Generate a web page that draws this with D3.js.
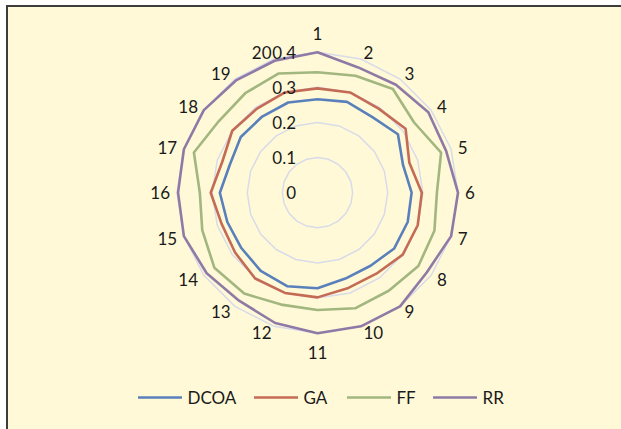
<!DOCTYPE html>
<html>
<head>
<meta charset="utf-8">
<script src="https://cdn.jsdelivr.net/npm/d3@7"></script>
<style>
html,body{margin:0;padding:0;background:#fff;}
svg{display:block;}
text{font-family:Lato,"Liberation Sans",Arial,sans-serif;fill:#1a1a1a;}
</style>
</head>
<body>
<svg id="chart" width="621" height="429"></svg>
<script>
const categories = ["1","2","3","4","5","6","7","8","9","10","11","12","13","14","15","16","17","18","19","20"];
const seriesNames = ["DCOA","GA","FF","RR"];
const DCOA = [0.266,0.272,0.266,0.283,0.256,0.268,0.270,0.270,0.257,0.257,0.272,0.280,0.275,0.268,0.270,0.278,0.262,0.270,0.268,0.270];
const GA   = [0.297,0.300,0.296,0.310,0.275,0.297,0.300,0.300,0.285,0.285,0.298,0.300,0.302,0.290,0.287,0.304,0.285,0.300,0.295,0.300];
const FF   = [0.343,0.350,0.365,0.340,0.370,0.340,0.350,0.355,0.345,0.346,0.334,0.335,0.355,0.363,0.345,0.335,0.370,0.347,0.350,0.357];
const RR   = [0.400,0.375,0.380,0.390,0.385,0.400,0.400,0.385,0.400,0.400,0.400,0.390,0.380,0.390,0.400,0.397,0.400,0.400,0.395,0.395];
const tickValues = [0,0.1,0.2,0.3,0.4];
const tickLabels = ["0","0.1","0.2","0.3","0.4"];
const colors = ["#5a80bc","#c46b56","#a2b67f","#8f7aa6"];

const FS = 17;
const svg = d3.select("#chart");
// chart area
svg.append("rect").attr("x",7).attr("y",6).attr("width",700).attr("height",500)
  .attr("fill","#fff9d7").attr("stroke","#3c3c3c").attr("stroke-width",2);

const cx = 317.5, cy = 192.7;
const r = d3.scaleLinear().domain([0,0.4]).range([0,140.5]);
const angle = d3.scaleBand().domain(categories).range([0,2*Math.PI]).paddingInner(0).paddingOuter(0).align(0);
const ang = c => angle(c);

const g = svg.append("g").attr("transform",`translate(${cx},${cy})`);

// gridlines (polygons)
const radial = d3.lineRadial().angle(d=>ang(d.c)).radius(d=>r(d.v)).curve(d3.curveLinearClosed);
tickValues.slice(1).forEach(t=>{
  g.append("path").attr("d",radial(categories.map(c=>({c,v:t}))))
    .attr("fill","none").attr("stroke","#d8dbe9").attr("stroke-width",1.5);
});

// series
const data = [DCOA,GA,FF,RR];
data.forEach((vals,i)=>{
  g.append("path").attr("d",radial(categories.map((c,j)=>({c,v:vals[j]}))))
    .attr("fill","none").attr("stroke",colors[i]).attr("stroke-width",2.6)
    .attr("stroke-linejoin","round");
});

// category labels: box touches a ring just outside the plot
const R = 147;
categories.forEach(c=>{
  const a = ang(c);
  const s = Math.sin(a), co = Math.cos(a);
  const t = g.append("text").attr("text-anchor","middle").attr("dominant-baseline","central")
    .attr("font-size",FS).text(c);
  const w = t.node().getComputedTextLength();
  let x = R*s, y = -R*co;
  if (Math.abs(s) < 1e-6) { y += (co > 0 ? -12.5 : 12.5); }
  else { x += Math.sign(s)*(w/2 + 0.5); }
  t.attr("x",x).attr("y",y);
});

// radial tick labels
tickValues.forEach((t,i)=>{
  g.append("text").attr("x",-21.5).attr("y",-r(t))
    .attr("text-anchor","end").attr("dominant-baseline","central")
    .attr("font-size",FS).text(tickLabels[i]);
});

// legend
const legendX = [138,254,347,433];
const lg = svg.append("g");
seriesNames.forEach((s,i)=>{
  lg.append("line").attr("x1",legendX[i]).attr("x2",legendX[i]+44)
    .attr("y1",397.5).attr("y2",397.5).attr("stroke",colors[i]).attr("stroke-width",2.6);
  lg.append("text").attr("x",legendX[i]+49.5).attr("y",397.5)
    .attr("dominant-baseline","central").attr("font-size",FS).text(s);
});
</script>
</body>
</html>
